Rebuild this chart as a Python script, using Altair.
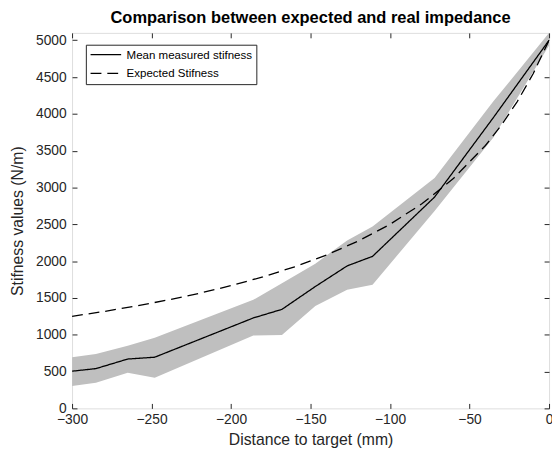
import altair as alt
import pandas as pd

# ---- data ----
mean_x = [-300, -285, -265, -248, -186, -168, -147, -127, -111, -72, -35, 0]
mean_y = [505, 540, 670, 695, 1228, 1345, 1655, 1935, 2065, 2870, 3950, 5000]
upper_y = [693, 737, 850, 960, 1475, 1698, 1966, 2280, 2470, 3130, 4170, 5100]
lower_y = [304, 348, 483, 415, 990, 995, 1390, 1610, 1680, 2680, 3680, 4930]

exp_x = [-300, -280, -260, -240, -220, -200, -180, -160, -140, -120, -100,
         -80, -60, -40, -30, -20, -10, 0]
exp_y = [1250, 1316, 1389, 1471, 1563, 1667, 1786, 1923, 2083, 2273, 2500,
         2778, 3125, 3571, 3846, 4167, 4545, 5000]

series_names = ["Mean measured stifness", "Expected Stifness"]
x_ticks = [-300, -250, -200, -150, -100, -50, 0]
y_ticks = [0, 500, 1000, 1500, 2000, 2500, 3000, 3500, 4000, 4500, 5000]

band_df = pd.DataFrame({"x": mean_x, "lo": lower_y, "hi": upper_y})
lines_df = pd.concat([
    pd.DataFrame({"x": mean_x, "y": mean_y, "series": series_names[0]}),
    pd.DataFrame({"x": exp_x, "y": exp_y, "series": series_names[1]}),
], ignore_index=True)

FONT = "Liberation Sans"
AX = "#262626"

x_scale = alt.Scale(domain=[-300, 0], nice=False, zero=False)
y_scale = alt.Scale(domain=[0, 5100], nice=False)

common_axis = dict(grid=False, domain=False, offset=-5, tickSize=5,
                   tickColor=AX, tickWidth=1, labelColor=AX,
                   labelFont=FONT, labelFontSize=14, titleFont=FONT,
                   titleColor=AX, titleFontWeight="normal",
                   labelFlush=False, labelOverlap=False, format="d")

band = alt.Chart(band_df).mark_area(color="#BFBFBF", opacity=1, clip=True).encode(
    x=alt.X("x:Q", scale=x_scale,
            axis=alt.Axis(orient="bottom", values=x_ticks, title="Distance to target (mm)",
                          labelPadding=4, titleFontSize=16, titlePadding=6,
                          **common_axis)),
    y=alt.Y("lo:Q", scale=y_scale,
            axis=alt.Axis(orient="left", values=y_ticks, title="Stifness values (N/m)",
                          labelPadding=6, titleFontSize=16, titlePadding=10,
                          **common_axis)),
    y2="hi:Q",
)

lines = alt.Chart(lines_df).mark_line(color="black", strokeWidth=1.3, clip=True).encode(
    x=alt.X("x:Q", scale=x_scale,
            axis=alt.Axis(orient="top", values=x_ticks, title=None, labels=False,
                          **common_axis)),
    y=alt.Y("y:Q", scale=y_scale,
            axis=alt.Axis(orient="right", values=y_ticks, title=None, labels=False,
                          **common_axis)),
    strokeDash=alt.StrokeDash(
        "series:N",
        scale=alt.Scale(domain=series_names, range=[[1, 0], [11, 6]]),
        sort=series_names,
        legend=alt.Legend(orient="none", legendX=14, legendY=12, title=None,
                          strokeColor=AX, fillColor="white", padding=4,
                          symbolType="M-3,0L3,0", symbolSize=107,
                          symbolOffset=10.3,
                          symbolStrokeWidth=1.3, symbolStrokeColor="black",
                          labelFont=FONT, labelFontSize=11.7, labelColor="black",
                          labelOffset=15, rowPadding=6),
    ),
    order=alt.Order("x:Q"),
)

chart = alt.layer(band, lines).resolve_axis(x="independent", y="independent").properties(
    width=484,
    height=381,
    title=alt.Title("Comparison between expected and real impedance",
                    font=FONT, fontSize=16.7, fontWeight="bold", color="black",
                    anchor="middle", offset=6),
    autosize=alt.AutoSizeParams(type="none"),
    padding={"left": 65, "top": 22, "right": 3, "bottom": 40},
).configure_view(stroke=AX, strokeWidth=1).configure(background="white")

chart.save("out.html", embed_options={"renderer": "svg", "actions": False})
